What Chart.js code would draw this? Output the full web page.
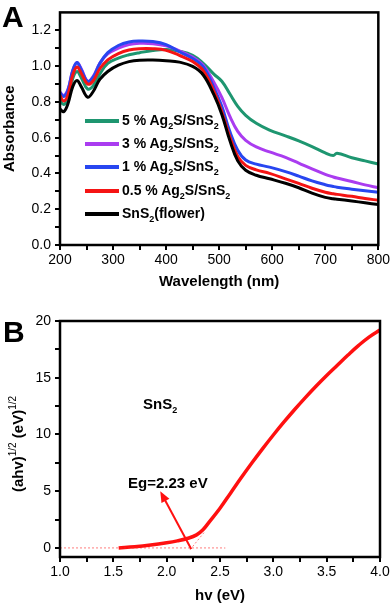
<!DOCTYPE html>
<html>
<head>
<meta charset="utf-8">
<script src="https://cdn.jsdelivr.net/npm/chart.js@4.4.1/dist/chart.umd.min.js"></script>
<style>
  html, body { margin: 0; padding: 0; background: #fff; }
  #wrap { position: relative; width: 392px; height: 606px; overflow: hidden;
          font-family: 'Liberation Sans', Arial, sans-serif; color: #000; }
  canvas { position: absolute; left: 0; }
  #chartA { top: 0; }
  #chartB { top: 300px; }
  .txt { position: absolute; font-weight: bold; white-space: nowrap; line-height: 1; }
  .panel { font-size: 30px; }
  .leg { font-size: 14px; left: 122px; }
  .swatch { position: absolute; left: 85px; width: 34px; height: 3.5px; }
  .lo { font-size: 9px; position: relative; top: 4px; }
  .hi { font-size: 10px; font-weight: normal; position: relative; top: -7px; }
  #ytitleB { font-size: 15px; left: 17px; top: 444px; transform: translate(-50%, -50%) rotate(-90deg); }
</style>
</head>
<body>
<div id="wrap">
  <canvas id="chartA" width="392" height="300"></canvas>
  <canvas id="chartB" width="392" height="306"></canvas>

  <div class="txt panel" style="left:2px; top:2px;">A</div>
  <div class="txt panel" style="left:3px; top:317px;">B</div>

  <!-- legend of panel A -->
  <div class="swatch" style="top:119px; background:#1e9670;"></div>
  <div class="txt leg" style="top:113px;">5 % Ag<span class="lo">2</span>S/SnS<span class="lo">2</span></div>
  <div class="swatch" style="top:142px; background:#aa3cf0;"></div>
  <div class="txt leg" style="top:136px;">3 % Ag<span class="lo">2</span>S/SnS<span class="lo">2</span></div>
  <div class="swatch" style="top:165px; background:#2846f0;"></div>
  <div class="txt leg" style="top:159px;">1 % Ag<span class="lo">2</span>S/SnS<span class="lo">2</span></div>
  <div class="swatch" style="top:189px; background:#f51414;"></div>
  <div class="txt leg" style="top:183px;">0.5 % Ag<span class="lo">2</span>S/SnS<span class="lo">2</span></div>
  <div class="swatch" style="top:212px; background:#000;"></div>
  <div class="txt leg" style="top:206px;">SnS<span class="lo">2</span>(flower)</div>

  <!-- panel B texts -->
  <div class="txt" style="left:143px; top:396px; font-size:15px;">SnS<span class="lo">2</span></div>
  <div class="txt" style="left:128px; top:475px; font-size:15px;">Eg=2.23 eV</div>
  <div id="ytitleB" class="txt">(ahv)<span class="hi">1/2</span> (eV)<span class="hi">1/2</span></div>
</div>

<script>
// ---- panel A: absorbance spectra ----
const wavelength = [200, 207, 215, 224, 232, 240, 252, 262, 275, 290, 310, 330, 350, 375, 400, 425, 450,
                    470, 490, 505, 520, 535, 550, 570, 595, 625, 650, 675, 700, 715, 722, 750, 775, 800];
const absFlower = [0.76, 0.745, 0.79, 0.885, 0.92, 0.885, 0.826, 0.855, 0.925, 0.97, 1.005, 1.025, 1.033, 1.034, 1.03, 1.022, 0.998,
                   0.95, 0.84, 0.73, 0.585, 0.47, 0.418, 0.39, 0.37, 0.345, 0.32, 0.29, 0.266, 0.258, 0.256, 0.246, 0.236, 0.226];
const abs05 = [0.835, 0.805, 0.84, 0.95, 0.995, 0.96, 0.9, 0.915, 0.985, 1.035, 1.07, 1.09, 1.097, 1.097, 1.088, 1.06, 1.025,
               0.975, 0.86, 0.745, 0.605, 0.495, 0.445, 0.42, 0.4, 0.37, 0.344, 0.317, 0.295, 0.286, 0.283, 0.272, 0.26, 0.25];
const abs1 = [0.85, 0.83, 0.865, 0.975, 1.02, 0.98, 0.915, 0.935, 1.015, 1.075, 1.115, 1.135, 1.14, 1.137, 1.12, 1.08, 1.042,
              0.995, 0.88, 0.775, 0.635, 0.53, 0.475, 0.452, 0.435, 0.41, 0.385, 0.358, 0.337, 0.327, 0.323, 0.312, 0.303, 0.295];
const abs3 = [0.855, 0.835, 0.87, 0.975, 1.02, 0.985, 0.915, 0.94, 1.015, 1.068, 1.1, 1.12, 1.127, 1.125, 1.113, 1.085, 1.05,
              1.005, 0.91, 0.825, 0.72, 0.635, 0.585, 0.548, 0.52, 0.49, 0.458, 0.425, 0.395, 0.38, 0.374, 0.355, 0.336, 0.32];
const abs5 = [0.81, 0.785, 0.82, 0.93, 0.97, 0.935, 0.872, 0.888, 0.955, 1.015, 1.045, 1.063, 1.075, 1.087, 1.092, 1.083, 1.06,
              1.015, 0.955, 0.915, 0.845, 0.775, 0.725, 0.68, 0.642, 0.61, 0.582, 0.55, 0.515, 0.5, 0.513, 0.488, 0.47, 0.453];
const xTicksA = [200, 250, 300, 350, 400, 450, 500, 550, 600, 650, 700, 750, 800];
const yTicksA = [0, 0.1, 0.2, 0.3, 0.4, 0.5, 0.6, 0.7, 0.8, 0.9, 1.0, 1.1, 1.2];

// ---- panel B: Tauc plot ----
const hv = [1.55, 1.7, 1.85, 2.0, 2.1, 2.2, 2.28, 2.34, 2.4, 2.5, 2.6, 2.7, 2.8, 2.9, 3.0, 3.1, 3.2, 3.3, 3.4, 3.5, 3.6, 3.7, 3.8, 3.9, 4.0];
const tauc = [0.0, 0.1, 0.25, 0.45, 0.62, 0.85, 1.15, 1.6, 2.3, 3.5, 4.85, 6.2, 7.5, 8.75, 9.95, 11.1, 12.2, 13.25, 14.25, 15.2, 16.1, 17.0, 17.85, 18.6, 19.2];
const baseX = [1.0, 2.55], baseY = [0, 0];
const tangentX = [2.22, 2.35], tangentY = [-0.15, 1.35];
const arrowFrom = [2.23, -0.1], arrowTo = [1.94, 5.0];
const xTicksB = [1.0, 1.25, 1.5, 1.75, 2.0, 2.25, 2.5, 2.75, 3.0, 3.25, 3.5, 3.75, 4.0];
const yTicksB = [0, 2.5, 5, 7.5, 10, 12.5, 15, 17.5, 20];

Chart.defaults.font.family = "'Liberation Sans', Arial, sans-serif";
Chart.defaults.color = '#000';

const pts = (xs, ys) => xs.map((x, i) => ({ x: x, y: ys[i] }));

// black frame round the plot area
const frameBox = {
    id: 'frameBox',
    afterDatasetsDraw(chart) {
        const { ctx, chartArea: a } = chart;
        ctx.save();
        ctx.strokeStyle = '#000';
        ctx.lineWidth = 2.5;
        ctx.strokeRect(a.left, a.top, a.right - a.left, a.bottom - a.top);
        ctx.restore();
    }
};

// Eg arrow in panel B
const egArrow = {
    id: 'egArrow',
    afterDatasetsDraw(chart) {
        const { ctx, scales: { x, y } } = chart;
        const x0 = x.getPixelForValue(arrowFrom[0]), y0 = y.getPixelForValue(arrowFrom[1]);
        const x1 = x.getPixelForValue(arrowTo[0]), y1 = y.getPixelForValue(arrowTo[1]);
        const ang = Math.atan2(y1 - y0, x1 - x0);
        const head = 11, wing = 4.5;
        ctx.save();
        ctx.strokeStyle = '#ff1010';
        ctx.fillStyle = '#ff1010';
        ctx.lineWidth = 2;
        ctx.beginPath();
        ctx.moveTo(x0, y0);
        ctx.lineTo(x1 - Math.cos(ang) * head * 0.8, y1 - Math.sin(ang) * head * 0.8);
        ctx.stroke();
        ctx.beginPath();
        ctx.moveTo(x1, y1);
        ctx.lineTo(x1 - Math.cos(ang) * head - Math.sin(ang) * wing, y1 - Math.sin(ang) * head + Math.cos(ang) * wing);
        ctx.lineTo(x1 - Math.cos(ang) * head + Math.sin(ang) * wing, y1 - Math.sin(ang) * head - Math.cos(ang) * wing);
        ctx.closePath();
        ctx.fill();
        ctx.restore();
    }
};

const tickGrid = { drawOnChartArea: false, color: '#000', tickLength: 5, lineWidth: 2 };
const tickFont = { size: 14 };
const titleFont = { size: 15, weight: 'bold' };

function lineSet(data, color, width) {
    return {
        data: data,
        borderColor: color,
        borderWidth: width,
        pointRadius: 0,
        fill: false,
        tension: 0.4
    };
}

new Chart(document.getElementById('chartA'), {
    type: 'line',
    data: {
        datasets: [
            lineSet(pts(wavelength, absFlower), '#000000', 3),
            lineSet(pts(wavelength, abs05), '#f51414', 3),
            lineSet(pts(wavelength, abs1), '#2846f0', 3),
            lineSet(pts(wavelength, abs3), '#aa3cf0', 3),
            lineSet(pts(wavelength, abs5), '#1e9670', 3)
        ]
    },
    options: {
        responsive: false,
        animation: false,
        devicePixelRatio: 1,
        layout: { padding: { top: 4, right: 12, left: 0, bottom: 0 } },
        plugins: { legend: { display: false }, tooltip: { enabled: false } },
        scales: {
            x: {
                type: 'linear', min: 200, max: 800,
                afterBuildTicks: s => { s.ticks = xTicksA.map(v => ({ value: v })); },
                afterFit: s => { s.height = 55; },
                grid: tickGrid,
                border: { display: false },
                ticks: { font: tickFont, padding: 2, autoSkip: false, maxRotation: 0,
                         callback: v => (v % 100 === 0 ? String(v) : '') },
                title: { display: true, text: 'Wavelength (nm)', font: titleFont, padding: { top: 4, bottom: 9 } }
            },
            y: {
                min: 0, max: 1.3,
                afterBuildTicks: s => { s.ticks = yTicksA.map(v => ({ value: v })); },
                afterFit: s => { s.width = 60; },
                grid: tickGrid,
                border: { display: false },
                ticks: { font: tickFont, padding: 4, autoSkip: false,
                         callback: v => (Math.round(v * 10) % 2 === 0 ? v.toFixed(1) : '') },
                title: { display: true, text: 'Absorbance', font: titleFont, padding: { top: 1, bottom: 0 } }
            }
        }
    },
    plugins: [frameBox]
});

new Chart(document.getElementById('chartB'), {
    type: 'line',
    data: {
        datasets: [
            { data: pts(baseX, baseY), borderColor: 'rgba(255,40,40,0.6)', borderWidth: 1, borderDash: [2, 2], pointRadius: 0 },
            { data: pts(tangentX, tangentY), borderColor: 'rgba(255,40,40,0.6)', borderWidth: 1, borderDash: [2, 2], pointRadius: 0 },
            lineSet(pts(hv, tauc), '#ff1010', 3.5)
        ]
    },
    options: {
        responsive: false,
        animation: false,
        devicePixelRatio: 1,
        layout: { padding: { top: 21, right: 12, left: 0, bottom: 0 } },
        plugins: { legend: { display: false }, tooltip: { enabled: false } },
        scales: {
            x: {
                type: 'linear', min: 1.0, max: 4.0,
                afterBuildTicks: s => { s.ticks = xTicksB.map(v => ({ value: v })); },
                afterFit: s => { s.height = 49; },
                grid: tickGrid,
                border: { display: false },
                ticks: { font: tickFont, padding: 2, autoSkip: false, maxRotation: 0,
                         callback: v => (Math.round(v * 4) % 2 === 0 ? v.toFixed(1) : '') },
                title: { display: true, text: 'hv (eV)', font: titleFont, padding: { top: 2, bottom: 1 } }
            },
            y: {
                min: -0.8, max: 20,
                afterBuildTicks: s => { s.ticks = yTicksB.map(v => ({ value: v })); },
                afterFit: s => { s.width = 60; },
                grid: tickGrid,
                border: { display: false },
                ticks: { font: tickFont, padding: 4, autoSkip: false,
                         callback: v => (v % 5 === 0 ? String(v) : '') }
            }
        }
    },
    plugins: [frameBox, egArrow]
});
</script>
</body>
</html>
